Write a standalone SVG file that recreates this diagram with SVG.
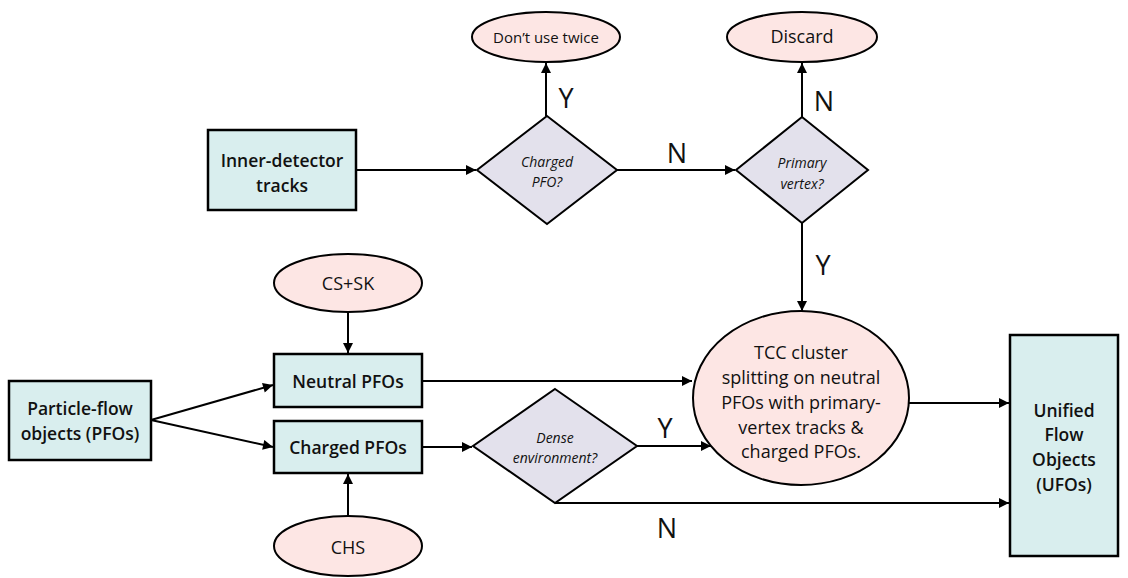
<svg xmlns="http://www.w3.org/2000/svg" width="1128" height="578" viewBox="0 0 1128 578">
<style>
.box{fill:#d9eeee;stroke:#000;stroke-width:2.5}
.ell{fill:#fde6e4;stroke:#000;stroke-width:2}
.dia{fill:#e3e1ec;stroke:#000;stroke-width:2}
.con{fill:none;stroke:#000;stroke-width:2;marker-end:url(#ah)}
text{font-family:"Open Sans","Liberation Sans",sans-serif;text-anchor:middle;dominant-baseline:central;fill:#111}
.b{font-size:17.5px;font-weight:600}
.e{font-size:15px}
.e2{font-size:18px}
.i{font-size:14px;font-style:italic}
.t{font-size:18px}
.yn{font-size:27px;font-weight:500}
</style>
<defs>
<marker id="ah" viewBox="0 0 10 10" refX="10" refY="5" markerWidth="5.5" markerHeight="5" orient="auto" markerUnits="strokeWidth">
<path d="M0,0 L10,5 L0,10 z" fill="#000"/>
</marker>
</defs>
<g id="connectors">
<line class="con" x1="356" y1="170" x2="476" y2="170"/>
<line class="con" x1="546" y1="116" x2="546" y2="63"/>
<line class="con" x1="617" y1="170" x2="735" y2="170"/>
<line class="con" x1="802" y1="117" x2="802" y2="63"/>
<line class="con" x1="802" y1="223" x2="802" y2="311"/>
<line class="con" x1="348" y1="312" x2="348" y2="353"/>
<line class="con" x1="348" y1="516" x2="348" y2="474"/>
<line class="con" x1="151" y1="420" x2="273" y2="385"/>
<line class="con" x1="151" y1="420" x2="273" y2="447"/>
<line class="con" x1="422" y1="381" x2="692" y2="381"/>
<line class="con" x1="422" y1="447" x2="472" y2="447"/>
<line class="con" x1="637" y1="446" x2="711" y2="446"/>
<line class="con" x1="908" y1="403" x2="1009" y2="403"/>
<polyline class="con" points="555,503 1009,503"/>
<text class="yn" x="566" y="97">Y</text>
<text class="yn" x="677" y="152">N</text>
<text class="yn" x="824" y="100">N</text>
<text class="yn" x="823" y="264">Y</text>
<text class="yn" x="665" y="427">Y</text>
<text class="yn" x="667" y="527">N</text>
</g>
<g id="inner-detector">
<rect class="box" x="208" y="130" width="148" height="80"/>
<text class="b" x="282" y="160">Inner-detector</text>
<text class="b" x="282" y="185">tracks</text>
</g>
<g id="dont-use-twice">
<ellipse class="ell" cx="546" cy="37" rx="74" ry="25"/>
<text class="e" x="546" y="37">Don’t use twice</text>
</g>
<g id="charged-pfo">
<polygon class="dia" points="547,116 617,170 547,224 477,170"/>
<text class="i" x="547" y="161">Charged</text>
<text class="i" x="547" y="181">PFO?</text>
</g>
<g id="discard">
<ellipse class="ell" cx="802" cy="37" rx="75" ry="25"/>
<text class="e2" x="802" y="36">Discard</text>
</g>
<g id="primary-vertex">
<polygon class="dia" points="802,117 868,170 802,223 736,170"/>
<text class="i" x="802" y="162">Primary</text>
<text class="i" x="802" y="183">vertex?</text>
</g>
<g id="cs-sk">
<ellipse class="ell" cx="348" cy="283" rx="74" ry="29"/>
<text class="e2" x="348" y="283">CS+SK</text>
</g>
<g id="chs">
<ellipse class="ell" cx="348" cy="546" rx="74" ry="30"/>
<text class="e2" x="348" y="547">CHS</text>
</g>
<g id="particle-flow">
<rect class="box" x="9" y="381" width="142" height="79"/>
<text class="b" x="80" y="408">Particle-flow</text>
<text class="b" x="80" y="433">objects (PFOs)</text>
</g>
<g id="neutral-pfos">
<rect class="box" x="274" y="354" width="148" height="53"/>
<text class="b" x="348" y="381">Neutral PFOs</text>
</g>
<g id="charged-pfos">
<rect class="box" x="274" y="421" width="148" height="52"/>
<text class="b" x="348" y="447">Charged PFOs</text>
</g>
<g id="dense-environment">
<polygon class="dia" points="555,389 637,446 555,503 473,446"/>
<text class="i" x="555" y="437">Dense</text>
<text class="i" x="555" y="457">environment?</text>
</g>
<g id="tcc">
<ellipse class="ell" cx="801" cy="398" rx="108" ry="87"/>
<text class="t" x="801" y="352">TCC cluster</text>
<text class="t" x="801" y="377">splitting on neutral</text>
<text class="t" x="801" y="402">PFOs with primary-</text>
<text class="t" x="801" y="427">vertex tracks &amp;</text>
<text class="t" x="801" y="451">charged PFOs.</text>
</g>
<g id="ufos">
<rect class="box" x="1010" y="335" width="108" height="221"/>
<text class="b" x="1064" y="410">Unified</text>
<text class="b" x="1064" y="434">Flow</text>
<text class="b" x="1064" y="459">Objects</text>
<text class="b" x="1064" y="484">(UFOs)</text>
</g>
</svg>
